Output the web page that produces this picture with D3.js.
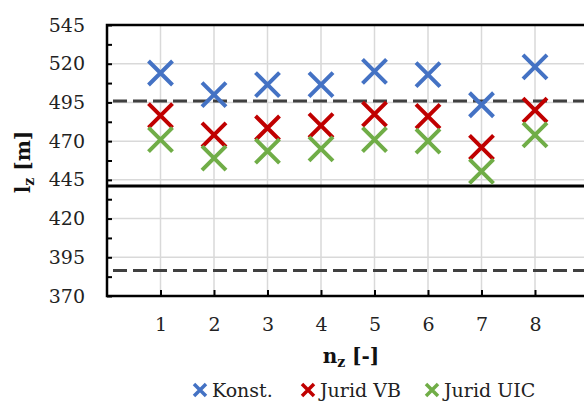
<!DOCTYPE html>
<html>
<head>
<meta charset="utf-8">
<script src="https://cdn.jsdelivr.net/npm/d3@7"></script>
<style>
html,body{margin:0;padding:0;background:#fff;overflow:hidden;}
svg{display:block;}
</style>
</head>
<body>
<svg id="chart" width="584" height="401"></svg>
<script>
// ---- data ----
const categories = [1, 2, 3, 4, 5, 6, 7, 8];
const konst    = [514, 500, 506.5, 506.5, 515, 513, 493.5, 518];
const juridVB  = [486.5, 474, 478.5, 480, 487.5, 486, 466, 490];
const juridUIC = [471, 459, 463.5, 465, 471, 470, 450.5, 474];
const refMean = 441;
const refUpper = 496;
const refLower = 386.5;
const yTicks = [370, 395, 420, 445, 470, 495, 520, 545];
const yMinorTicks = d3.range(370, 545.1, 12.5);
const seriesNames = ["Konst.", "Jurid VB", "Jurid UIC"];
const seriesColors = ["#4472C4", "#C00000", "#70AD47"];
const seriesData = [konst, juridVB, juridUIC];

// ---- layout ----
const svg = d3.select("#chart");
const pL = 107, pT = 25, pB = 296, pR = 588.5;
const x = d3.scaleLinear().domain([0, 9]).range([pL, pR]);
const y = d3.scaleLinear().domain([370, 545]).range([pB, pT]);
const font = "'DejaVu Serif', 'Liberation Serif', serif";

// gridlines
const grid = svg.append("g");
grid.selectAll("line.h").data(yTicks.slice(1)).join("line")
  .attr("x1", pL).attr("x2", pR)
  .attr("y1", d => y(d)).attr("y2", d => y(d))
  .attr("stroke", "#d9d9d9").attr("stroke-width", 1.5);
grid.selectAll("line.v").data(categories).join("line")
  .attr("x1", d => x(d)).attr("x2", d => x(d))
  .attr("y1", pT).attr("y2", pB)
  .attr("stroke", "#d9d9d9").attr("stroke-width", 1.5);

// reference lines
svg.append("line").attr("x1", pL).attr("x2", pR)
  .attr("y1", y(refUpper)).attr("y2", y(refUpper))
  .attr("stroke", "#404040").attr("stroke-width", 3)
  .attr("stroke-dasharray", "14,6").attr("stroke-dashoffset", -6);
svg.append("line").attr("x1", pL).attr("x2", pR)
  .attr("y1", y(refLower)).attr("y2", y(refLower))
  .attr("stroke", "#404040").attr("stroke-width", 3)
  .attr("stroke-dasharray", "14,6").attr("stroke-dashoffset", -6);
svg.append("line").attr("x1", pL).attr("x2", pR)
  .attr("y1", y(refMean)).attr("y2", y(refMean))
  .attr("stroke", "#000").attr("stroke-width", 3);

// frame
svg.append("rect").attr("x", pL).attr("y", pT)
  .attr("width", pR - pL).attr("height", pB - pT)
  .attr("fill", "none").attr("stroke", "#000").attr("stroke-width", 2.5);

// y axis ticks (inward) and labels
const yTickAxis = d3.axisLeft(y).tickValues(yMinorTicks).tickSize(-5).tickFormat("");
const gyt = svg.append("g").attr("transform", `translate(${pL},0)`).call(yTickAxis);
gyt.select(".domain").remove();
gyt.selectAll(".tick line").attr("stroke", "#000").attr("stroke-width", 2);

const yLabAxis = d3.axisLeft(y).tickValues(yTicks).tickSize(0).tickPadding(22).tickFormat(d3.format("d"));
const gyl = svg.append("g").attr("transform", `translate(${pL},0)`).call(yLabAxis);
gyl.select(".domain").remove();
gyl.selectAll("text").attr("font-family", font).attr("font-size", 19).attr("fill", "#222");

// x axis ticks (inward) and labels
const xAxis = d3.axisBottom(x).tickValues(categories).tickSize(-6).tickPadding(22).tickFormat(d3.format("d"));
const gx = svg.append("g").attr("transform", `translate(0,${pB})`).call(xAxis);
gx.select(".domain").remove();
gx.selectAll(".tick line").attr("stroke", "#000").attr("stroke-width", 2);
gx.selectAll("text").attr("font-family", font).attr("font-size", 19).attr("fill", "#222");

// markers
const half = 12;
seriesData.forEach((vals, si) => {
  const g = svg.append("g");
  const pts = categories.map((c, i) => ({cx: x(c), cy: y(vals[i])}));
  g.selectAll("path").data(pts).join("path")
    .attr("d", d => `M${d.cx - half},${d.cy - half}L${d.cx + half},${d.cy + half}M${d.cx - half},${d.cy + half}L${d.cx + half},${d.cy - half}`)
    .attr("stroke", seriesColors[si]).attr("stroke-width", 4).attr("fill", "none");
});

// axis titles
const xt = svg.append("text").attr("x", 351).attr("y", 363)
  .attr("text-anchor", "middle").attr("font-family", font)
  .attr("font-weight", "bold").attr("font-size", 20).attr("fill", "#111");
xt.append("tspan").text("n");
xt.append("tspan").text("z").attr("font-size", 14).attr("dy", 4);
xt.append("tspan").text(" [-]").attr("font-size", 20).attr("dy", -4);

const yt = svg.append("text").attr("transform", "translate(30,162) rotate(-90)")
  .attr("text-anchor", "middle").attr("font-family", font)
  .attr("font-weight", "bold").attr("font-size", 20).attr("fill", "#111");
yt.append("tspan").text("l");
yt.append("tspan").text("z").attr("font-size", 14).attr("dy", 4);
yt.append("tspan").text(" [m]").attr("font-size", 20).attr("dy", -4);

// legend
const legendX = [200, 308, 432];
const lg = svg.append("g");
seriesNames.forEach((name, i) => {
  const cx = legendX[i], cy = 390;
  const h = 6;
  lg.append("path")
    .attr("d", `M${cx - h},${cy - h}L${cx + h},${cy + h}M${cx - h},${cy + h}L${cx + h},${cy - h}`)
    .attr("stroke", seriesColors[i]).attr("stroke-width", 3.5).attr("fill", "none");
  lg.append("text").attr("x", cx + 12).attr("y", 397)
    .attr("font-family", font).attr("font-size", 19).attr("fill", "#222")
    .text(name);
});
</script>
</body>
</html>
